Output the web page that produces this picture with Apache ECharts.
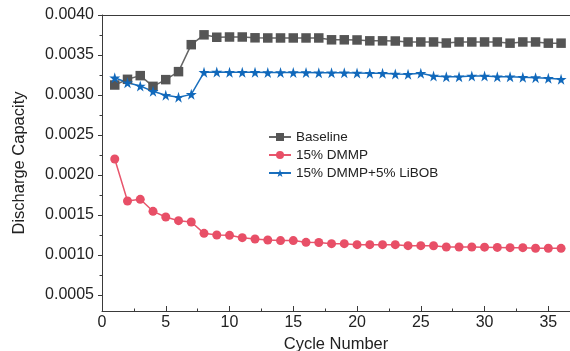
<!DOCTYPE html>
<html><head><meta charset="utf-8">
<script src="https://cdn.jsdelivr.net/npm/echarts@6/dist/echarts.min.js"></script>
<style>html,body{margin:0;padding:0;background:#fff}#c{width:570px;height:351px}</style>
</head><body><div id="c"></div>
<script>
var cycles = [1,2,3,4,5,6,7,8,9,10,11,12,13,14,15,16,17,18,19,20,21,22,23,24,25,26,27,28,29,30,31,32,33,34,35,36];
var baseline = [0.003125,0.003196,0.003242,0.003108,0.003192,0.003292,0.003629,0.003752,0.003722,0.003725,0.003725,0.003715,0.003713,0.003713,0.003713,0.003713,0.003713,0.003690,0.003690,0.003688,0.003677,0.003677,0.003675,0.003663,0.003663,0.003663,0.003650,0.003663,0.003663,0.003663,0.003663,0.003648,0.003663,0.003663,0.003648,0.003648];
var dmmp = [0.002200,0.001675,0.001696,0.001546,0.001475,0.001429,0.001413,0.001271,0.001250,0.001246,0.001217,0.001200,0.001188,0.001180,0.001180,0.001158,0.001156,0.001142,0.001142,0.001129,0.001129,0.001129,0.001129,0.001117,0.001117,0.001115,0.001100,0.001100,0.001100,0.001098,0.001095,0.001092,0.001092,0.001085,0.001085,0.001083];
var libob = [0.003215,0.003154,0.003113,0.003046,0.002998,0.002973,0.003008,0.003284,0.003287,0.003284,0.003283,0.003283,0.003281,0.003280,0.003280,0.003280,0.003279,0.003278,0.003278,0.003276,0.003273,0.003271,0.003263,0.003258,0.003271,0.003237,0.003229,0.003229,0.003237,0.003237,0.003229,0.003229,0.003221,0.003217,0.003208,0.003196];
var seriesNames = ['Baseline','15% DMMP','15% DMMP+5% LiBOB'];
var xMajor = [0,5,10,15,20,25,30,35];
var xMinor = [2.5,7.5,12.5,17.5,22.5,27.5,32.5];
var yMajor = [0.0005,0.0010,0.0015,0.0020,0.0025,0.0030,0.0035,0.0040];
var yMinor = [0.00075,0.00125,0.00175,0.00225,0.00275,0.00325,0.00375];
var xLabel = 'Cycle Number';
var yLabel = 'Discharge Capacity';

function pairs(arr){ return arr.map(function(v,i){ return [cycles[i], v]; }); }
var star = 'path://M50,0 L61,35 L98,35 L68,57 L79,91 L50,70 L21,91 L32,57 L2,35 L39,35 Z';
var font = '"Liberation Sans", Arial, Helvetica, sans-serif';
var axCol = '#3a3a3a';
var XMIN = 0, XMAX = 36.7, YMIN = 0.0003, YMAX = 0.004;

var chart = echarts.init(document.getElementById('c'), null, {renderer:'canvas'});
chart.setOption({
  animation:false,
  textStyle:{fontFamily:font},
  grid:{left:102, right:0, top:15, bottom:40, containLabel:false, outerBoundsMode:'none'},
  legend:{
    orient:'vertical', left:263, top:125, itemWidth:22, itemHeight:10, itemGap:4,
    textStyle:{fontSize:13.5, color:'#222', fontFamily:font},
    data:seriesNames
  },
  xAxis:[
    {type:'value', position:'bottom', min:XMIN, max:XMAX,
     name:xLabel, nameLocation:'middle', nameGap:24,
     nameTextStyle:{fontSize:16.5, color:'#222', fontFamily:font},
     axisLine:{show:true, lineStyle:{color:axCol, width:1}},
     axisTick:{show:true, inside:true, length:5, customValues:xMajor, lineStyle:{color:axCol}},
     axisLabel:{show:true, customValues:xMajor, margin:4, fontSize:16, color:'#222', fontFamily:font},
     splitLine:{show:false}},
    {type:'value', position:'bottom', min:XMIN, max:XMAX,
     axisLine:{show:false},
     axisTick:{show:true, inside:true, length:2.5, customValues:xMinor, lineStyle:{color:axCol}},
     axisLabel:{show:false}, splitLine:{show:false}},
    {type:'value', position:'top', min:XMIN, max:XMAX,
     axisLine:{show:true, lineStyle:{color:axCol, width:1}},
     axisTick:{show:false}, axisLabel:{show:false}, splitLine:{show:false}}
  ],
  yAxis:[
    {type:'value', position:'left', min:YMIN, max:YMAX,
     name:yLabel, nameLocation:'middle', nameGap:74, nameRotate:90,
     nameTextStyle:{fontSize:16.5, color:'#222', fontFamily:font},
     axisLine:{show:true, lineStyle:{color:axCol, width:1}},
     axisTick:{show:true, inside:false, length:4, customValues:yMajor, lineStyle:{color:axCol}},
     axisLabel:{show:true, customValues:yMajor, margin:8, fontSize:16, color:'#222', fontFamily:font,
       formatter:function(v){ return v.toFixed(4); }},
     splitLine:{show:false}},
    {type:'value', position:'left', min:YMIN, max:YMAX,
     axisLine:{show:false},
     axisTick:{show:true, inside:false, length:2.5, customValues:yMinor, lineStyle:{color:axCol}},
     axisLabel:{show:false}, splitLine:{show:false}}
  ],
  series:[
    {name:seriesNames[0], type:'line', data:pairs(baseline), xAxisIndex:0, yAxisIndex:0,
     symbol:'rect', symbolSize:9.5, lineStyle:{color:'#666', width:1.5},
     itemStyle:{color:'#555555'}},
    {name:seriesNames[1], type:'line', data:pairs(dmmp), xAxisIndex:0, yAxisIndex:0,
     symbol:'circle', symbolSize:9, lineStyle:{color:'#e8566d', width:1.5},
     itemStyle:{color:'#e84f67'}},
    {name:seriesNames[2], type:'line', data:pairs(libob), xAxisIndex:0, yAxisIndex:0,
     symbol:star, symbolSize:11, lineStyle:{color:'#1a6fbd', width:1.5},
     itemStyle:{color:'#1068bb'}}
  ]
});
</script></body></html>
